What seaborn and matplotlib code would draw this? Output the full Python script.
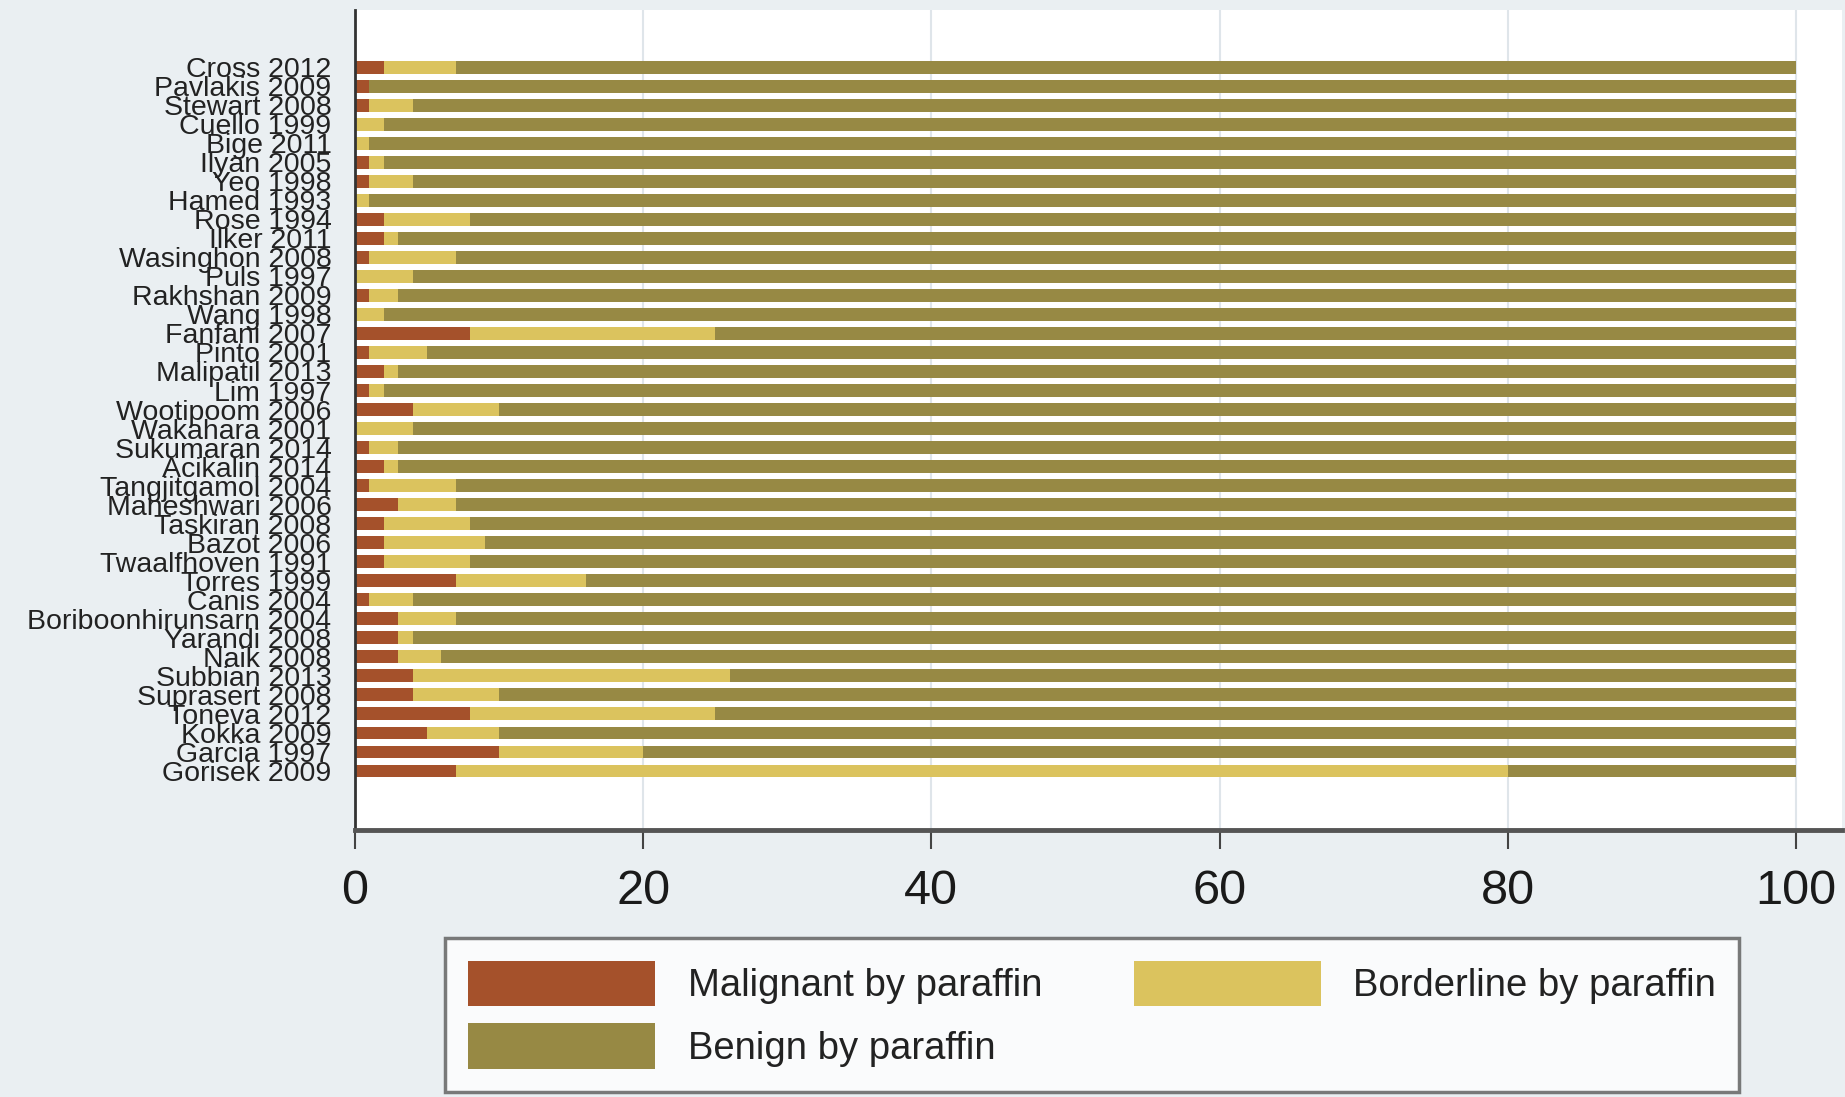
import matplotlib
matplotlib.use("Agg")
import matplotlib.pyplot as plt
from matplotlib.patches import Patch
import seaborn as sns
import pandas as pd
import numpy as np

studies = ["Cross 2012", "Pavlakis 2009", "Stewart 2008", "Cuello 1999", "Bige 2011",
           "Ilyan 2005", "Yeo 1998", "Hamed 1993", "Rose 1994", "Ilker 2011",
           "Wasinghon 2008", "Puls 1997", "Rakhshan 2009", "Wang 1998", "Fanfani 2007",
           "Pinto 2001", "Malipatil 2013", "Lim 1997", "Wootipoom 2006", "Wakahara 2001",
           "Sukumaran 2014", "Acikalin 2014", "Tangjitgamol 2004", "Maheshwari 2006",
           "Taskiran 2008", "Bazot 2006", "Twaalfhoven 1991", "Torres 1999", "Canis 2004",
           "Boriboonhirunsarn 2004", "Yarandi 2008", "Naik 2008", "Subbian 2013",
           "Suprasert 2008", "Toneva 2012", "Kokka 2009", "Garcia 1997", "Gorisek 2009"]
malignant = [2, 1, 1, 0, 0, 1, 1, 0, 2, 2, 1, 0, 1, 0, 8, 1, 2, 1, 4, 0, 1, 2, 1, 3,
             2, 2, 2, 7, 1, 3, 3, 3, 4, 4, 8, 5, 10, 7]
borderline = [5, 0, 3, 2, 1, 1, 3, 1, 6, 1, 6, 4, 2, 2, 17, 4, 1, 1, 6, 4, 2, 1, 6, 4,
              6, 7, 6, 9, 3, 4, 1, 3, 22, 6, 17, 5, 10, 73]
benign = [93, 99, 96, 98, 99, 98, 96, 99, 92, 97, 93, 96, 97, 98, 75, 95, 97, 98, 90, 96,
          97, 97, 93, 93, 92, 91, 92, 84, 96, 93, 96, 94, 74, 90, 75, 90, 80, 20]
series_labels = ["Malignant by paraffin", "Borderline by paraffin", "Benign by paraffin"]
xticks = [0, 20, 40, 60, 80, 100]

c_mal = "#a5512b"
c_bord = "#dbc35e"
c_ben = "#978944"
bg = "#eaeff2"

df = pd.DataFrame({"study": studies,
                   "mal": malignant,
                   "bord": borderline,
                   "ben": benign})
df["mb"] = df["mal"] + df["bord"]
df["total"] = df["mb"] + df["ben"]

sns.set_style("white")
plt.rcParams["font.family"] = ["Liberation Sans", "DejaVu Sans"]

fig = plt.figure(figsize=(18.45, 10.97), dpi=100, facecolor=bg)
ax = fig.add_axes([355 / 1845, 1 - 830 / 1097, (1842 - 355) / 1845, (830 - 10) / 1097])
ax.set_facecolor("white")

for col, color in [("total", c_ben), ("mb", c_bord), ("mal", c_mal)]:
    sns.barplot(data=df, x=col, y="study", color=color, saturation=1, width=0.68,
                orient="h", ax=ax, linewidth=0)

ax.set_xlim(0, 103.2)
ax.set_ylim(40.1, -3)
ax.set_xlabel("")
ax.set_ylabel("")
ax.set_axisbelow(True)
ax.xaxis.grid(True, color="#dfe5ea", linewidth=1.5)
ax.yaxis.grid(False)

ax.set_xticks(xticks)
ax.set_xticklabels([str(t) for t in xticks], fontsize=35,
                   family=["Liberation Sans", "DejaVu Sans"], color="#1a1a1a")
ax.tick_params(axis="x", direction="out", length=14, width=1.5, color="#444444", pad=14,
               bottom=True)
ax.tick_params(axis="y", length=0, pad=17)
for lab in ax.get_yticklabels():
    lab.set_fontsize(20.5)
    lab.set_color("#222222")

for s in ["top", "right"]:
    ax.spines[s].set_visible(False)
ax.spines["left"].set_color("#333333")
ax.spines["left"].set_linewidth(2)
ax.spines["bottom"].set_color("#555555")
ax.spines["bottom"].set_linewidth(3.5)

handles = [Patch(facecolor=c_mal, edgecolor="none"),
           Patch(facecolor=c_ben, edgecolor="none"),
           Patch(facecolor=c_bord, edgecolor="none")]
labels = [series_labels[0], series_labels[2], series_labels[1]]
leg = fig.legend(handles, labels, loc="upper left",
                 bbox_to_anchor=(445 / 1845, 1 - 938 / 1097), bbox_transform=fig.transFigure,
                 ncol=2, fontsize=27.5, frameon=True, fancybox=False, borderaxespad=0,
                 handlelength=4.9, handleheight=1.45, handletextpad=0.85,
                 columnspacing=2.4, labelspacing=0.45, borderpad=0.6)
leg.get_frame().set_edgecolor("#5a5a5a")
leg.get_frame().set_linewidth(2.5)
leg.get_frame().set_facecolor("white")
for t in leg.get_texts():
    t.set_color("#222222")

fig.savefig("out.png", dpi=100, facecolor=bg)
